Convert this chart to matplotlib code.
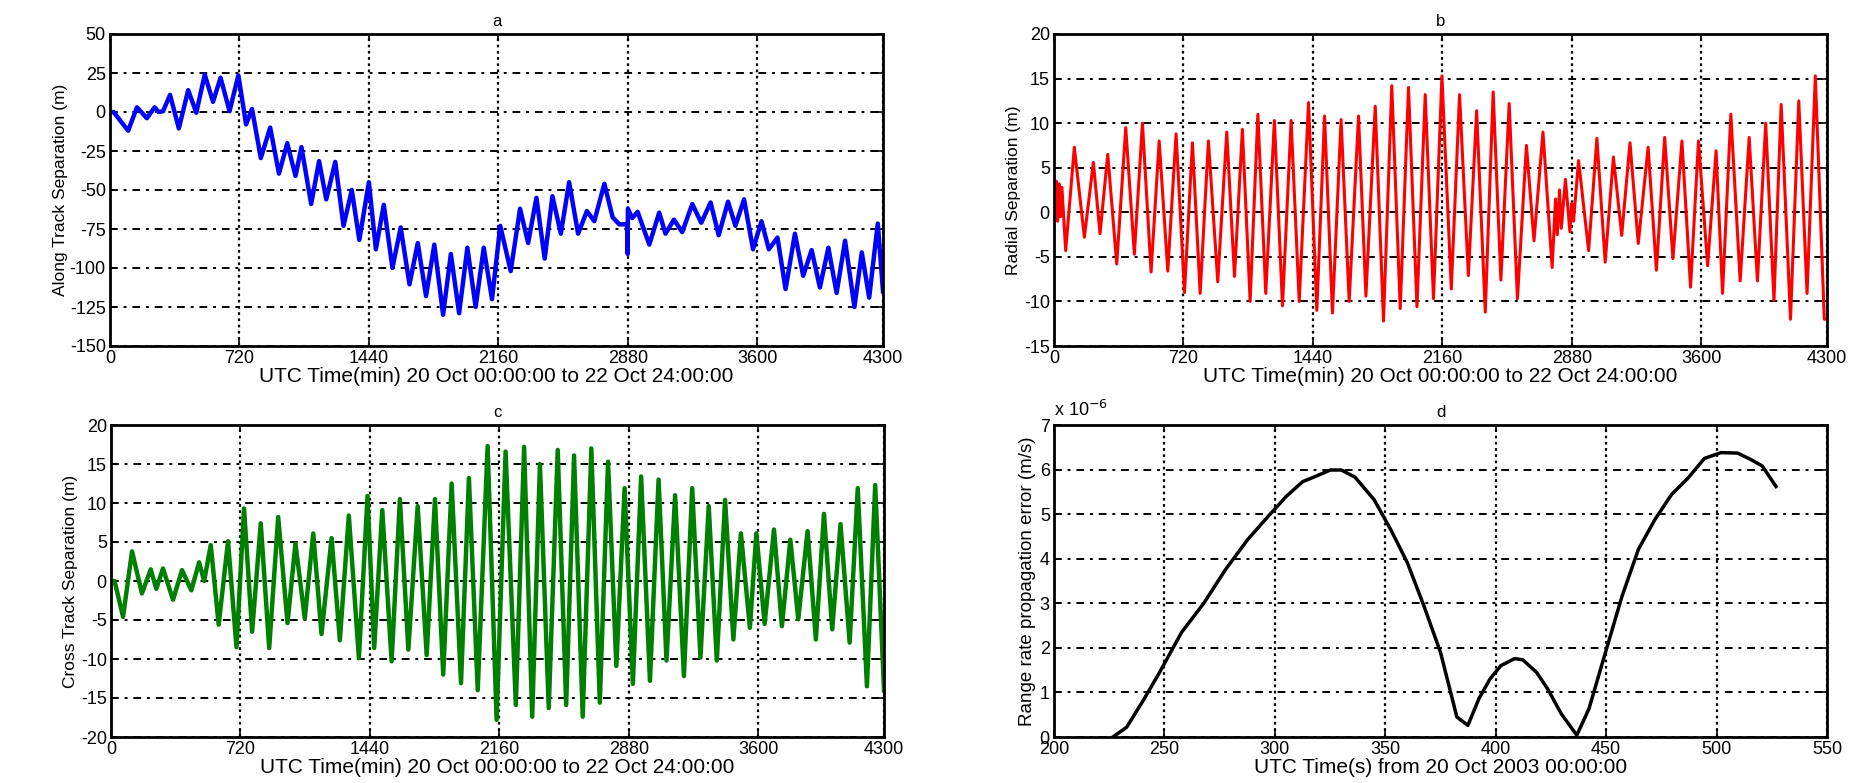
import matplotlib
matplotlib.use('Agg')
import matplotlib.pyplot as plt

plt.rcParams['font.family'] = ['Liberation Sans', 'DejaVu Sans']
plt.rcParams['axes.unicode_minus'] = False

# panel a: along track separation (m), turning points
t_a = [0, 20, 101, 150, 205, 248, 270, 295, 334, 383, 435, 480, 527, 573, 615, 665,
       714, 757, 790, 839, 891, 940, 986, 1032, 1065, 1119, 1163, 1203, 1253, 1299,
       1345, 1387, 1440, 1479, 1523, 1571, 1617, 1666, 1712, 1758, 1804, 1853, 1896,
       1942, 1988, 2034, 2079, 2125, 2171, 2229, 2281, 2326, 2372, 2418, 2461, 2508,
       2554, 2604, 2653, 2694, 2750, 2796, 2833, 2876, 2880, 2881, 2905, 2935, 3000,
       3055, 3090, 3137, 3183, 3239, 3289, 3341, 3386, 3438, 3479, 3527, 3577, 3624,
       3665, 3713, 3758, 3810, 3856, 3903, 3949, 3996, 4042, 4089, 4141, 4182, 4223,
       4271, 4300]
v_a = [0, 0, -12, 3, -4, 3, 0, 0.5, 11, -10.5, 14, -0.5, 24, 6.5, 22, 0.5,
       23.5, -8, 2, -29.5, -10, -39.5, -20, -41, -22.5, -59, -31.5, -56, -32, -73,
       -50, -82, -45, -88, -59.5, -100, -74, -110.5, -84, -118, -85, -130, -91,
       -129, -87, -125, -87, -120, -73, -102, -62, -84, -55, -94, -54, -78,
       -45, -78, -63.5, -70, -46, -67.5, -72, -72, -91, -62, -68, -64, -85,
       -64.5, -78, -69, -77, -59, -71, -58, -79, -57.5, -73, -56, -88, -70,
       -88, -80.5, -113.5, -78, -105, -88.5, -112.5, -87, -116, -82.5, -125, -90, -119,
       -71.5, -115]

# panel b: radial separation (m)
t_b = [0, 6, 12, 20, 28, 36, 44, 65, 113, 169, 219, 256, 299, 349, 399, 447, 492, 540,
       585, 633, 679, 726, 770, 813, 859, 911, 961, 1004, 1048, 1091, 1134, 1178, 1226,
       1271, 1319, 1364, 1416, 1462, 1505, 1549, 1597, 1642, 1694, 1735, 1787, 1833,
       1879, 1926, 1972, 2019, 2065, 2111, 2158, 2210, 2256, 2305, 2351, 2399, 2443,
       2486, 2532, 2578, 2628, 2670, 2720, 2771, 2790, 2800, 2812, 2822, 2845, 2870,
       2880, 2890, 2918, 2974, 3020, 3066, 3112, 3158, 3204, 3250, 3305, 3351, 3397,
       3443, 3493, 3541, 3585, 3636, 3683, 3719, 3765, 3817, 3867, 3913, 3959, 4005,
       4045, 4097, 4143, 4189, 4235, 4285, 4300]
v_b = [3.7, -0.5, 3.5, -1, 3.2, -0.5, 2.8, -4.3, 7.3, -2.8, 5.6, -2.4, 6.5, -5.8, 9.5, -4.7, 10, -6.7,
       8, -6.6, 8.8, -9.0, 7.8, -9.1, 8, -7.8, 9, -7.2, 9.3, -10, 11, -9.1, 10.3,
       -10.5, 10.3, -10, 12.3, -11, 10.8, -11.3, 10.4, -10, 10.8, -9.4, 11.9, -12.2,
       14.2, -10.8, 14, -10.6, 13.2, -9.7, 15.3, -8.6, 13.2, -7.1, 11.4, -11.2, 13.5,
       -7.6, 12.2, -9.7, 7.5, -3.2, 9, -6.2, 1.5, -2.5, 2.5, -1.8, 3.7, -2.2,
       1, -1, 5.8, -4.3, 8.3, -5.6, 6.2, -2.6, 7.8, -3.5, 7.3, -6.5, 8.4,
       -5.2, 8, -8.4, 8, -6, 6.9, -9.1, 11, -7.7, 8.4, -7.7, 10, -9.9,
       12.1, -12, 12.5, -9.1, 15.3, -12, -12]

# panel c: cross track separation (m)
t_c = [0, 20, 67, 117, 172, 221, 252, 289, 345, 395, 447, 490, 518, 555, 599, 651, 698,
       740, 785, 833, 880, 930, 982, 1026, 1078, 1125, 1171, 1227, 1273, 1323, 1379,
       1427, 1464, 1509, 1561, 1607, 1654, 1706, 1756, 1802, 1848, 1895, 1947, 1991,
       2040, 2095, 2145, 2195, 2252, 2298, 2343, 2386, 2435, 2485, 2532, 2576, 2624,
       2672, 2719, 2765, 2811, 2857, 2903, 2949, 2998, 3046, 3090, 3138, 3187, 3233,
       3279, 3325, 3370, 3416, 3462, 3504, 3554, 3590, 3636, 3688, 3732, 3779, 3823,
       3875, 3921, 3966, 4012, 4058, 4109, 4154, 4205, 4251, 4300]
v_c = [0, 0, -4.6, 3.8, -1.6, 1.5, -1.0, 1.6, -2.4, 1.4, -1.2, 2.4, 0, 4.6, -5.6, 5.1, -8.5,
       9.3, -6.5, 7.4, -8.6, 8.2, -5.4, 4.8, -4.8, 6.1, -6.8, 5.5, -7.6, 8.4, -9.9,
       10.9, -8.6, 9.1, -10.3, 10.5, -8.8, 9.6, -9.5, 10.5, -12.0, 12.5, -13.1, 13.2,
       -14.0, 17.3, -17.8, 16.6, -15.9, 17.2, -17.4, 15.0, -16.3, 16.8, -15.9, 16.1, -17.4,
       17.0, -15.6, 15.3, -10.9, 11.9, -13.2, 13.4, -12.8, 13.0, -10.2, 11.0, -12.2, 11.9,
       -9.8, 9.6, -10.2, 10.4, -7.5, 6.1, -6.0, 6.1, -5.5, 6.6, -5.8, 5.3, -4.9,
       6.4, -7.5, 8.6, -6.2, 7.3, -7.9, 11.9, -13.5, 12.3, -14.0]

# panel d: range rate propagation error (x 1e-6 m/s)
t_d = [226.7, 232.9, 240.4, 247.8, 257.8, 267.8, 277.7, 287.7, 297.7, 305.2, 312.6,
       317.6, 325.1, 330.1, 336.3, 345.0, 352.5, 360.0, 367.5, 375.0, 382.4, 387.4,
       392.4, 397.4, 402.3, 408.6, 412.3, 418.5, 423.5, 429.7, 436.7, 442.2, 449.7,
       457.2, 464.6, 472.1, 479.6, 487.1, 494.5, 502.0, 509.5, 515.7, 520.7, 526.9]
v_d = [0, 0.22, 0.82, 1.45, 2.35, 3.0, 3.76, 4.43, 4.99, 5.4, 5.73,
       5.83, 5.99, 5.99, 5.83, 5.32, 4.65, 3.91, 2.94, 1.90, 0.45, 0.26,
       0.86, 1.30, 1.60, 1.76, 1.73, 1.45, 1.08, 0.52, 0.04, 0.63, 1.90,
       3.16, 4.21, 4.88, 5.44, 5.81, 6.25, 6.38, 6.37, 6.22, 6.08, 5.62]

min_ticks = [0, 720, 1440, 2160, 2880, 3600, 4300]
min_label = 'UTC Time(min) 20 Oct 00:00:00 to 22 Oct 24:00:00'

W, H = 1864, 783
fig = plt.figure(figsize=(W / 100, H / 100), dpi=100)


def make_axes(x0, x1, y0, y1):
    return fig.add_axes([x0 / W, 1 - y1 / H, (x1 - x0) / W, (y1 - y0) / H])


def style(ax, title, xlabel, ylabel, ysize=12.5, ypad=1):
    ax.set_title(title, fontsize=12, pad=6)
    ax.set_xlabel(xlabel, fontsize=15, labelpad=0)
    ax.set_ylabel(ylabel, fontsize=ysize, labelpad=ypad)
    ax.tick_params(direction='in', top=True, right=True, length=5, width=1.2,
                   labelsize=13, pad=3)
    for s in ax.spines.values():
        s.set_linewidth(2)
    ax.xaxis.grid(True, color='black', linestyle=(0, (1.2, 1.6)), linewidth=1.6)
    ax.yaxis.grid(True, color='black', linestyle=(0, (4, 3, 1.5, 3)), linewidth=1.4)
    ax.set_axisbelow(True)


ax = make_axes(110, 883, 34, 346)
ax.plot(t_a, v_a, color='blue', linewidth=3.2, solid_joinstyle='round')
ax.set_xlim(0, 4300)
ax.set_ylim(-150, 50)
ax.set_xticks(min_ticks)
ax.set_yticks(range(-150, 51, 25))
style(ax, 'a', min_label, 'Along Track Separation (m)')

ax = make_axes(1054, 1827, 34, 346)
ax.plot(t_b, v_b, color='red', linewidth=2.2, solid_joinstyle='round')
ax.set_xlim(0, 4300)
ax.set_ylim(-15, 20)
ax.set_xticks(min_ticks)
ax.set_yticks(range(-15, 21, 5))
style(ax, 'b', min_label, 'Radial Separation (m)', ypad=2)

ax = make_axes(111, 884, 425, 737)
ax.plot(t_c, v_c, color='green', linewidth=3.2, solid_joinstyle='round')
ax.set_xlim(0, 4300)
ax.set_ylim(-20, 20)
ax.set_xticks(min_ticks)
ax.set_yticks(range(-20, 21, 5))
style(ax, 'c', min_label, 'Cross Track Separation (m)', ypad=2)

ax = make_axes(1054, 1827, 425, 737)
ax.plot(t_d, v_d, color='black', linewidth=2.5, solid_joinstyle='round')
ax.set_xlim(200, 550)
ax.set_ylim(0, 7)
ax.set_xticks(range(200, 551, 50))
ax.set_yticks(range(0, 8))
style(ax, 'd', 'UTC Time(s) from 20 Oct 2003 00:00:00',
      'Range rate propagation error (m/s)', ysize=13.5, ypad=3)
ax.text(0.0, 1.015, r'x 10$^{-6}$', transform=ax.transAxes, fontsize=13,
        ha='left', va='bottom')

fig.savefig('out.png', dpi=100)
